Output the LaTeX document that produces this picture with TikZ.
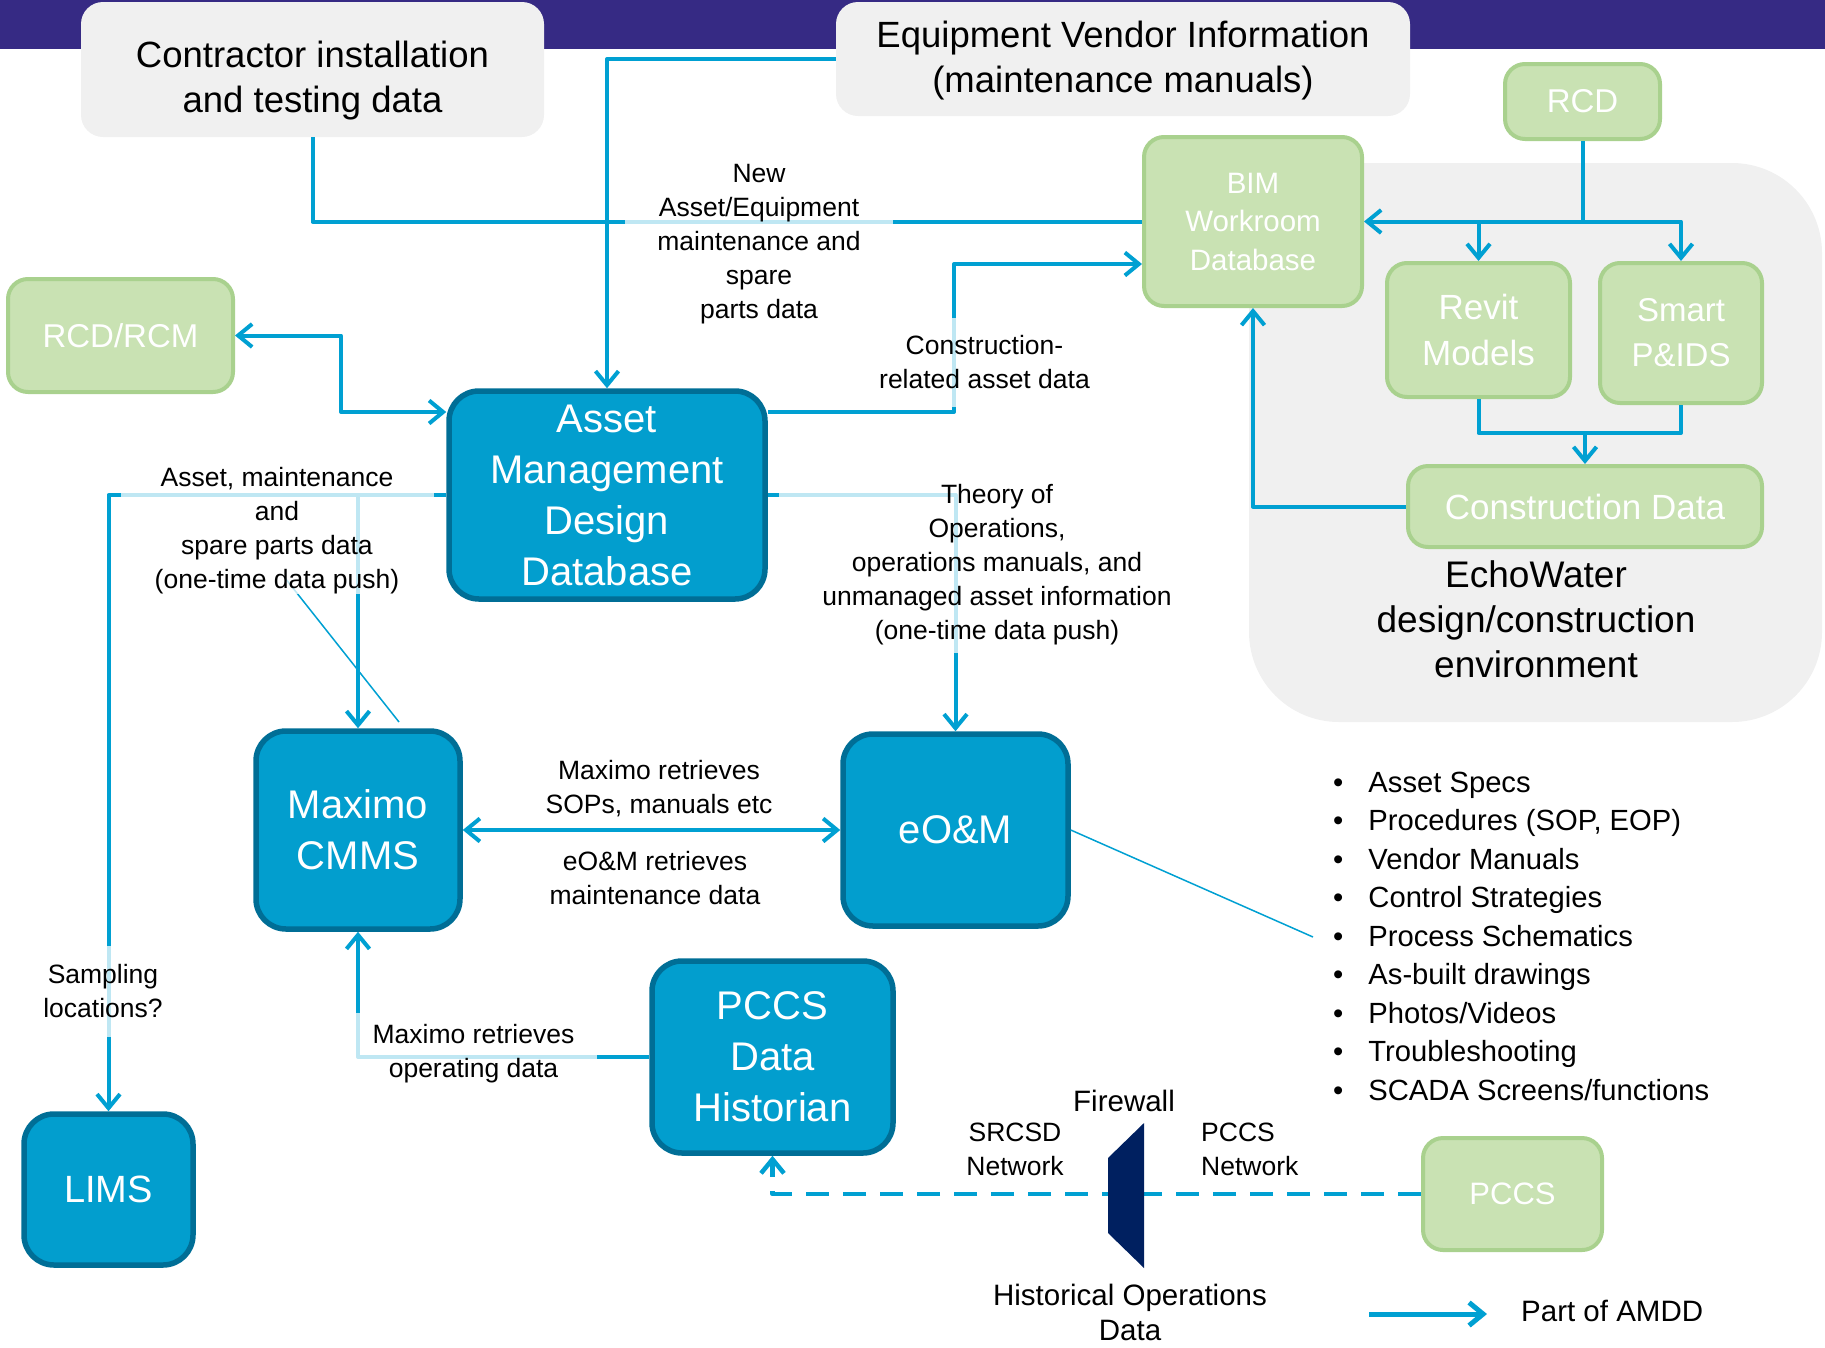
\documentclass[tikz,border=0pt]{standalone}
\usepackage{fontspec}
\setmainfont{Liberation Sans}
\usetikzlibrary{arrows.meta}
\definecolor{banner}{RGB}{54,42,132}
\definecolor{flowblue}{RGB}{0,160,210}
\definecolor{dbfill}{RGB}{2,158,206}
\definecolor{dbedge}{RGB}{0,110,150}
\definecolor{envfill}{RGB}{201,226,179}
\definecolor{envedge}{RGB}{169,209,142}
\definecolor{paper}{RGB}{240,240,240}
\definecolor{wall}{RGB}{0,32,96}
\begin{document}
\begin{tikzpicture}[x=1pt,y=-1pt,line join=round,>={Straight Barb[length=14pt,width=23pt]},
  flow/.style={draw=flowblue,line width=4pt},
  db/.style={draw=dbedge,fill=dbfill,line width=5.5pt,rounded corners=30pt,text=white,align=center,font=\fontsize{40}{51}\selectfont},
  env/.style={draw=envedge,fill=envfill,line width=4pt,rounded corners=20pt,text=white,align=center,font=\fontsize{33}{40}\selectfont},
  source/.style={fill=paper,rounded corners=22pt,align=center,font=\fontsize{36.5}{45}\selectfont},
  tag/.style={align=center,inner sep=0pt,font=\fontsize{26.5}{34}\selectfont},
  veil/.style={tag,fill=white,fill opacity=0.75,text opacity=1},
  pointer/.style={draw=flowblue,line width=1.5pt}]
  \useasboundingbox (0,0) rectangle (1825,1347);
  \fill[banner] (0,0) rectangle (1825,49);
  \fill[paper,rounded corners=90pt] (1249,163) rectangle (1822,722);

  \node[source,minimum width=463pt,minimum height=135pt] (contractor) at (312.5,69.5) {\rule{0pt}{49pt}Contractor installation\\and testing data};
  \node[source,minimum width=574pt,minimum height=114pt] (vendor) at (1123,59) {\rule{0pt}{30pt}Equipment Vendor Information\\(maintenance manuals)};
  \node[env,minimum width=155pt,minimum height=75pt] (rcd) at (1582.5,101.5) {RCD};
  \node[env,minimum width=218pt,minimum height=169pt,font=\fontsize{29.5}{38.5}\selectfont] (bim) at (1253,221.5) {BIM\\Workroom\\Database};
  \node[env,minimum width=183pt,minimum height=134pt,font=\fontsize{35}{46}\selectfont] (revit) at (1478.5,330) {Revit\\Models};
  \node[env,minimum width=162pt,minimum height=140pt,font=\fontsize{33}{45}\selectfont] (smart) at (1681,333) {Smart\\P\&IDS};
  \node[env,minimum width=354pt,minimum height=81pt,font=\fontsize{35}{40}\selectfont] (cdata) at (1585,506.5) {Construction Data};
  \node[align=center,inner sep=0pt,font=\fontsize{37}{44.8}\selectfont] (echo) at (1536,619) {EchoWater\\design/construction\\environment};
  \node[env,minimum width=225pt,minimum height=113pt] (rcdrcm) at (120.5,335.5) {RCD/RCM};
  \node[db,minimum width=316pt,minimum height=208pt] (amdd) at (607,495) {Asset\\Management\\Design\\Database};
  \node[db,minimum width=204pt,minimum height=198pt] (maximo) at (358,830) {Maximo\\CMMS};
  \node[db,minimum width=225pt,minimum height=192pt] (eom) at (955.5,830) {eO\&M};
  \node[db,minimum width=241pt,minimum height=192pt] (pccsdh) at (772.5,1057) {PCCS\\Data\\Historian};
  \node[db,minimum width=169pt,minimum height=151pt,font=\fontsize{38}{46}\selectfont] (lims) at (108.5,1189.5) {LIMS};
  \node[env,minimum width=179pt,minimum height=112pt,font=\fontsize{31}{40}\selectfont] (pccs) at (1512.5,1194) {PCCS};

  \coordinate (crel) at (954,412);
  \coordinate (crelup) at (954,264);
  \coordinate (rcmbend) at (341,412);
  \coordinate (cjoin) at (1585,433);
  \coordinate (ptop) at (285,578);
  \coordinate (pbot) at (399,722);
  \coordinate (listpt) at (1313,937);
  \coordinate (keytail) at (1369,1314);
  \coordinate (keyhead) at (1487,1314);

  \draw[flow,->] (vendor.west) -| (amdd.north);
  \draw[flow] (contractor.south) |- (amdd.north |- bim.west);
  \draw[flow] (bim.west) -- (amdd.north |- bim.west);
  \draw[flow,->] (amdd.east |- crel) -- (crel) -- (crelup) -- (bim.west |- crelup);
  \draw[flow,<->] (rcdrcm.east) -| (rcmbend) -- (amdd.west |- rcmbend);
  \draw[flow,->] (amdd.west) -| (lims.north);
  \draw[flow,->] (maximo.north |- amdd.west) -- (maximo.north);
  \draw[flow,->] (amdd.east) -| (eom.north);
  \draw[flow,<->] (maximo.east) -- (eom.west);
  \draw[flow,->] (pccsdh.west) -| (maximo.south);
  \draw[flow,line width=4.5pt,dash pattern=on 23pt off 14pt,->] (pccs.west) -| (pccsdh.south);
  \draw[flow] (rcd.south) -- (rcd.south |- bim.east);
  \draw[flow,<->] (bim.east) -| (smart.north);
  \draw[flow,->] (revit.north |- bim.east) -- (revit.north);
  \draw[flow] (revit.south) |- (cjoin) -| (smart.south);
  \draw[flow,->] (cjoin) -- (cdata.north);
  \draw[flow,->] (cdata.west) -| (bim.south);
  \draw[pointer] (ptop) -- (pbot);
  \draw[pointer] (eom.east) -- (listpt);

  \node[veil,minimum width=268pt,minimum height=168pt] (newasset) at (759,244) {New\\Asset/Equipment\\maintenance and\\spare\\parts data};
  \node[veil,minimum width=213pt,minimum height=89pt] (crellabel) at (984.5,362.5) {Construction-\\related asset data};
  \node[veil,minimum width=313pt,minimum height=126pt] (amlabel) at (277,531) {Asset, maintenance\\and\\spare parts data\\(one-time data push)};
  \node[veil,minimum width=436pt,minimum height=176pt] (theory) at (997,565) {Theory of\\Operations,\\operations manuals, and\\unmanaged asset information\\(one-time data push)};
  \node[veil,minimum width=122pt,minimum height=91pt] (sampling) at (103,991.5) {Sampling\\locations?};
  \node[veil,minimum width=247pt,minimum height=82pt] (operating) at (473.5,1054) {Maximo retrieves\\operating data};
  \node[tag] (sopslabel) at (659,789) {Maximo retrieves\\SOPs, manuals etc};
  \node[tag] (maintlabel) at (655,878) {eO\&M retrieves\\maintenance data};

  \fill[wall] (1108,1158) -- (1144,1123) -- (1144,1268) -- (1108,1233) -- cycle;
  \node[tag,font=\fontsize{29.5}{36}\selectfont] (firewall) at (1124,1101) {Firewall};
  \node[tag] (srcsd) at (1015,1149) {SRCSD\\Network};
  \node[tag,align=left,anchor=west] (pccsnet) at (1201,1149) {PCCS\\Network};
  \node[tag,font=\fontsize{29.5}{35}\selectfont] (histops) at (1130,1312) {Historical Operations\\Data};

  \foreach \t [count=\i] in {Asset Specs,{Procedures (SOP, EOP)},Vendor Manuals,Control Strategies,Process Schematics,As-built drawings,{Photos/Videos},Troubleshooting,{SCADA Screens/functions}}
    \node[anchor=west,inner sep=0pt,text height=20pt,text depth=6pt,font=\fontsize{29.2}{38.5}\selectfont] (item\i) at (1333,{785+38.5*(\i-1)}) {\textbullet\hspace{25pt}\t};

  \draw[flow,line width=5pt,->] (keytail) -- (keyhead);
  \node[tag,anchor=west,font=\fontsize{29.5}{36}\selectfont] (amddkey) at (1521,1311) {Part of AMDD};
\end{tikzpicture}
\end{document}
